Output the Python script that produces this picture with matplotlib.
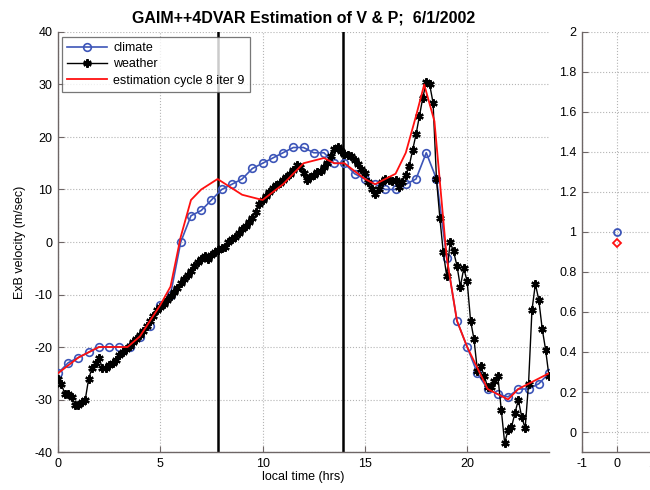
import numpy as np
import matplotlib
matplotlib.use("Agg")
import matplotlib.pyplot as plt

plt.rcParams['font.family'] = ['Liberation Sans', 'DejaVu Sans']
plt.rcParams['axes.unicode_minus'] = False

# climate model, every half hour
climate_t = np.arange(0, 24.01, 0.5)
climate_v = [-25, -23, -22, -21, -20, -20, -20, -20, -18, -16,
             -12, -10, 0, 5, 6, 8, 10, 11, 12, 14,
             15, 16, 17, 18, 18, 17, 17, 15, 15, 13,
             12, 11, 10, 10, 11, 12, 17, 12, -3, -15,
             -20, -25, -28, -29, -29.5, -28, -28, -27, -25]

# measured drifts, every 10 minutes
weather_t = np.arange(0, 24.01, 1 / 6)
weather_v = [-26, -27, -29, -29, -29.5, -31,
             -31, -30.5, -30, -26, -24, -23,
             -22, -24, -24, -23.5, -23, -22.5,
             -21.5, -21, -20.3, -19.8, -19, -18.5,
             -17.8, -17, -16, -15, -14, -13,
             -12.3, -11.8, -11, -10.3, -9.5, -8.7,
             -7.8, -7, -6.2, -5.5, -4.5, -3.8,
             -3.2, -2.7, -3.3, -2.4, -2, -1.6,
             -1.2, -0.9, 0, 0.5, 1, 1.8,
             2.5, 3, 3.8, 4.5, 5.8, 7.2,
             8, 8.8, 9.6, 10.2, 10.8, 11.3,
             11.9, 12.3, 12.9, 13.8, 14.7, 14.2,
             13.2, 11.8, 12.3, 12.8, 13.3, 13.6,
             14.2, 15, 16.4, 17.8, 18, 17.3,
             16.8, 16.6, 16.3, 15.6, 14.8, 13.9,
             13.1, 11.5, 10, 9.2, 10, 11.4,
             12, 11.8, 11.6, 11.9, 10.5, 11.5,
             12.8, 14.5, 17.5, 20.5, 24, 27.5,
             30.5, 30, 26.5, 12, 4.5, -2,
             -6.5, 0, -1.8, -4.5, -8.5, -5,
             -7.5, -15, -18.5, -24.5, -23.7, -25.5,
             -27.6, -27.6, -26.5, -25.6, -32, -38.3,
             -35.8, -35.3, -32.6, -30.1, -33.3, -35.5,
             -27, -13, -8, -11, -16.5, -20.5,
             -25.6]

# estimation cycle 8 iter 9
est_t = [0, 1, 2, 3, 3.4, 4, 5, 5.5, 6, 6.5, 7, 7.8, 9, 10, 11, 12,
         13, 13.5, 14, 15, 15.5, 16, 16.5, 17, 17.5, 17.9, 18.4, 19,
         19.5, 20, 21, 22, 22.5, 23, 24]
est_v = [-25, -22, -20, -20, -20, -18, -12, -8.5, 1, 8, 10, 12, 9, 8, 11, 15,
         16, 15, 15, 12, 11, 12, 13, 17, 24, 30, 23, -3,
         -15, -20, -28, -30, -28, -27, -25]

# assimilation window boundaries
markers_t = [7.82, 13.92]

# scalar estimates on the side panel
p_clim = 1.0
p_est = 0.945

blue = '#3d55b8'
red = '#ff1010'
spine_col = '#6e6666'
grid_kw = dict(color='#b4b4b4', linestyle=':', linewidth=0.8)

fig = plt.figure(figsize=(6.5, 4.9), dpi=100)
ax = fig.add_axes([58 / 650, 38 / 490, 491 / 650, 420 / 490])
ax2 = fig.add_axes([582 / 650, 38 / 490, 70 / 650, 420 / 490])

for t in markers_t:
    ax.axvline(t, color='black', linewidth=1.8, zorder=1)

ax.plot(climate_t, climate_v, color=blue, linewidth=1.2, marker='o',
        markersize=5.5, markerfacecolor='none', markeredgewidth=1.2,
        label='climate', zorder=3)
ax.plot(weather_t, weather_v, color='black', linewidth=1.0, marker=(6, 2, 0),
        markersize=6, markeredgewidth=1.6, label='weather', zorder=4)
ax.plot(est_t, est_v, color=red, linewidth=1.3,
        label='estimation cycle 8 iter 9', zorder=5)

ax.set_xlim(0, 24)
ax.set_ylim(-40, 40)
ax.set_xticks([0, 5, 10, 15, 20])
ax.set_yticks(np.arange(-40, 41, 10))
ax.set_title('GAIM++4DVAR Estimation of V & P;  6/1/2002',
             fontsize=11.5, fontweight='bold', pad=7)
ax.set_xlabel('local time (hrs)', fontsize=9, labelpad=1)
ax.set_ylabel('ExB velocity (m/sec)', fontsize=9, labelpad=6)

leg = ax.legend(loc='upper left', bbox_to_anchor=(0.008, 0.988),
                fontsize=9, handlelength=3.2, fancybox=False,
                borderaxespad=0, labelspacing=0.35, borderpad=0.4,
                handletextpad=0.5)
leg.get_frame().set_edgecolor('#555555')
leg.get_frame().set_linewidth(0.9)

ax2.plot([0], [p_clim], linestyle='none', marker='o', markersize=5,
         markerfacecolor='none', markeredgecolor=blue, markeredgewidth=1.3)
ax2.plot([0], [p_est], linestyle='none', marker='D', markersize=4.5,
         markerfacecolor='none', markeredgecolor=red, markeredgewidth=1.3)
ax2.set_xlim(-1, 1)
ax2.set_ylim(-0.1, 2)
ax2.set_xticks([-1, 0, 1])
ax2.set_yticks(np.arange(0, 2.01, 0.2))
ax2.set_yticklabels(['0', '0.2', '0.4', '0.6', '0.8', '1', '1.2',
                     '1.4', '1.6', '1.8', '2'])

for a in (ax, ax2):
    a.grid(True, **grid_kw)
    a.set_axisbelow(True)
    for side in ('top', 'right'):
        a.spines[side].set_visible(False)
    for side in ('left', 'bottom'):
        a.spines[side].set_color(spine_col)
        a.spines[side].set_linewidth(1.0)
    a.tick_params(direction='in', length=4, width=0.8, color=spine_col,
                  labelsize=9, pad=4)

fig.savefig('out.png', dpi=100)
